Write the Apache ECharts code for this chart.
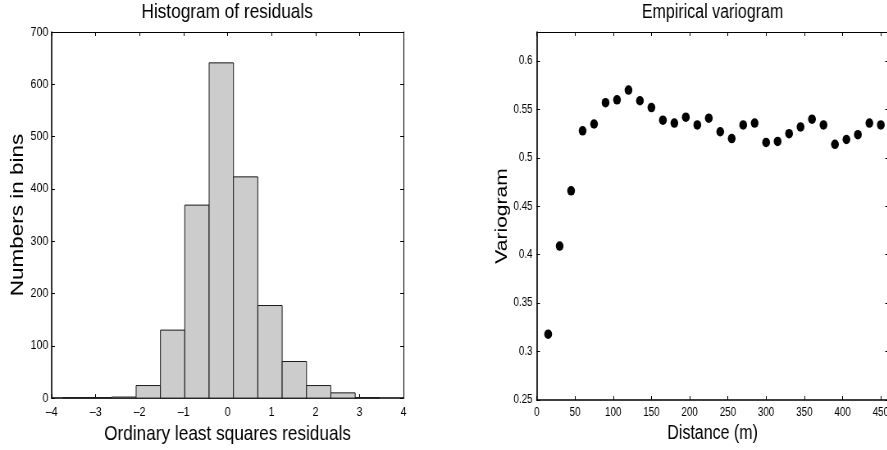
<!DOCTYPE html>
<html>
<head>
<meta charset="utf-8">
<script src="https://cdn.jsdelivr.net/npm/echarts@6/dist/echarts.min.js"></script>
<style>
  html, body { margin: 0; padding: 0; background: #fff; overflow: hidden; width: 887px; height: 450px; }
  /* the source figure is squeezed sideways, so draw wide and squeeze the same way */
  #chart { width: 1110px; height: 450px; transform: scaleX(0.82); transform-origin: 0 0; }
</style>
</head>
<body>
<div id="chart"></div>
<script>
// histogram of residuals: left edge of each bin, one common width, counts
const binLeft = [-3.74, -3.19, -2.635, -2.08, -1.526, -0.973, -0.419, 0.134, 0.688, 1.242, 1.795, 2.349, 2.902];
const binWidth = 0.5536;
const binCounts = [1, 1, 2, 24, 130, 369, 641, 423, 177, 70, 24, 10, 1];

// empirical variogram
const distances = [15, 30, 45, 60, 75, 90, 105, 120, 135, 150, 165, 180, 195, 210, 225,
  240, 255, 270, 285, 300, 315, 330, 345, 360, 375, 390, 405, 420, 435, 450];
const variogram = [0.318, 0.409, 0.466, 0.528, 0.535, 0.557, 0.560, 0.570, 0.559, 0.552,
  0.539, 0.536, 0.542, 0.534, 0.541, 0.527, 0.520, 0.534, 0.536, 0.516,
  0.517, 0.525, 0.532, 0.540, 0.534, 0.514, 0.519, 0.524, 0.536, 0.534];

const FONT = '"Liberation Sans", Arial, Helvetica, sans-serif';

const chart = echarts.init(document.getElementById('chart'));

const histData = binLeft.map((x, i) => [x, x + binWidth, binCounts[i]]);
const varData = distances.map((d, i) => [d, variogram[i]]);

// shared look for the frame axes
function frameAxis(extra, main) {
  return Object.assign({
    type: 'value',
    axisLine: { show: true, onZero: false, lineStyle: { color: '#000', width: main ? 1.6 : 1 } },
    axisTick: { show: true, inside: true, length: 4, lineStyle: { color: '#000', width: 1 } },
    splitLine: { show: false },
    axisLabel: { show: main, color: '#000', fontFamily: FONT },
  }, extra);
}

function dash(v) {
  return v < 0 ? '\u2013' + Math.abs(v) : String(v);
}

const option = {
  animation: false,
  backgroundColor: '#fff',
  title: [
    {
      text: 'Histogram of residuals',
      left: 277, top: 2, padding: 0, textAlign: 'center',
      textStyle: { fontFamily: FONT, fontSize: 21, fontWeight: 'normal', color: '#000' },
    },
    {
      text: 'Empirical variogram',
      left: 869, top: 3, padding: 0, textAlign: 'center',
      textStyle: { fontFamily: FONT, fontSize: 19.5, fontWeight: 'normal', color: '#000' },
    },
  ],
  grid: [
    { left: 63, top: 32, width: 429, height: 368 },
    { left: 654.5, top: 32, width: 429, height: 368 },
  ],
  xAxis: [
    frameAxis({
      gridIndex: 0, position: 'bottom', min: -4, max: 4, interval: 1,
      name: 'Ordinary least squares residuals', nameLocation: 'middle', nameGap: 21,
      nameTextStyle: { fontFamily: FONT, fontSize: 21, color: '#000' },
      axisLabel: { show: true, color: '#000', fontFamily: FONT, fontSize: 13, margin: 8, formatter: dash },
    }, true),
    frameAxis({ gridIndex: 0, position: 'top', min: -4, max: 4, interval: 1 }, false),
    frameAxis({
      gridIndex: 1, position: 'bottom', min: 0, max: 460, interval: 50,
      name: 'Distance (m)', nameLocation: 'middle', nameGap: 19,
      nameTextStyle: { fontFamily: FONT, fontSize: 19.5, color: '#000' },
      axisLabel: { show: true, color: '#000', fontFamily: FONT, fontSize: 12, margin: 7, showMaxLabel: false },
    }, true),
    frameAxis({ gridIndex: 1, position: 'top', min: 0, max: 460, interval: 50 }, false),
  ],
  yAxis: [
    frameAxis({
      gridIndex: 0, position: 'left', min: 0, max: 700, interval: 100,
      name: 'Numbers in bins', nameLocation: 'middle', nameGap: 19, nameRotate: 90,
      nameTextStyle: { fontFamily: FONT, fontSize: 22.5, color: '#000' },
      axisLabel: { show: true, color: '#000', fontFamily: FONT, fontSize: 13, margin: 4 },
    }, true),
    frameAxis({ gridIndex: 0, position: 'right', min: 0, max: 700, interval: 100 }, false),
    frameAxis({
      gridIndex: 1, position: 'left', min: 0.25, max: 0.63, interval: 0.05,
      name: 'Variogram', nameLocation: 'middle', nameGap: 22.5, nameRotate: 90,
      nameTextStyle: { fontFamily: FONT, fontSize: 21, color: '#000' },
      axisLabel: { show: true, color: '#000', fontFamily: FONT, fontSize: 12, margin: 5, showMaxLabel: false },
    }, true),
    frameAxis({ gridIndex: 1, position: 'right', min: 0.25, max: 0.63, interval: 0.05 }, false),
  ],
  series: [
    {
      type: 'custom',
      xAxisIndex: 0,
      yAxisIndex: 0,
      data: histData,
      encode: { x: [0, 1], y: 2 },
      renderItem: function (params, api) {
        const topLeft = api.coord([api.value(0), api.value(2)]);
        const bottomRight = api.coord([api.value(1), 0]);
        return {
          type: 'rect',
          shape: {
            x: topLeft[0],
            y: topLeft[1],
            width: bottomRight[0] - topLeft[0],
            height: bottomRight[1] - topLeft[1],
          },
          style: { fill: '#cccccc', stroke: '#1a1a1a', lineWidth: 1 },
        };
      },
    },
    {
      type: 'scatter',
      xAxisIndex: 2,
      yAxisIndex: 2,
      data: varData,
      symbol: 'circle',
      symbolSize: 9.5,
      itemStyle: { color: '#000', opacity: 1 },
    },
  ],
};

chart.setOption(option);
</script>
</body>
</html>
